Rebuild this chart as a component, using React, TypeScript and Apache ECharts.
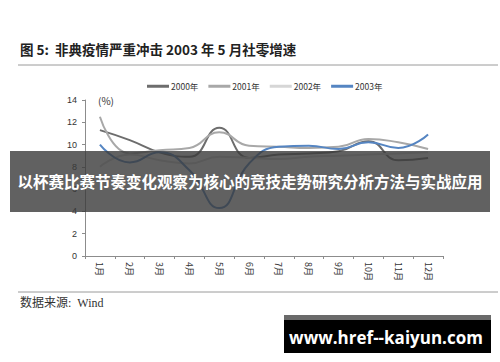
import React, { useEffect, useRef } from "react";
import * as echarts from "echarts";

const months = ["1月", "2月", "3月", "4月", "5月", "6月", "7月", "8月", "9月", "10月", "11月", "12月"];
const seriesNames = ["2000年", "2001年", "2002年", "2003年"];
const y2000 = [11.3, 10.4, 9.3, 8.9, 11.5, 8.8, 9.1, 9.2, 9.4, 10.3, 8.6, 8.8];
const y2001 = [12.5, 9.2, 9.5, 9.7, 11.1, 9.9, 9.8, 9.7, 9.8, 10.5, 10.2, 9.6];
const y2002 = [8.0, 9.1, 8.6, 8.3, 8.9, 8.8, 8.7, 8.9, 9.0, 9.1, 9.2, 9.3];
const y2003 = [10.0, 8.4, 9.3, 7.7, 4.3, 8.3, 9.8, 9.9, 9.6, 10.2, 9.7, 10.9];
const yTicks = { min: 0, max: 14, interval: 2 };
const colors = ["#6d6d6d", "#a8a8a8", "#d6d6d6", "#5585c2"];

const titleText = "图 5:  非典疫情严重冲击 2003 年 5 月社零增速";
const bannerText = "以杯赛比赛节奏变化观察为核心的竞技走势研究分析方法与实战应用";
const sourceText = "数据来源:  Wind";
const watermarkText = "www.href--kaiyun.com";

export default function App() {
  const ref = useRef<HTMLDivElement>(null);
  useEffect(() => {
    if (!ref.current) return;
    const chart = echarts.init(ref.current, null, { renderer: "svg" });
    const data = [y2000, y2001, y2002, y2003];
    chart.setOption({
      animation: false,
      backgroundColor: "#ffffff",
      legend: {
        top: 77,
        left: 142,
        icon: "rect",
        itemWidth: 22,
        itemHeight: 3,
        itemGap: 10,
        textStyle: { fontSize: 8.5, color: "#333", fontFamily: "Noto Sans CJK SC", padding: [0, 0, 0, -3] },
        data: seriesNames,
      },
      grid: { left: 85, right: 57, top: 100, bottom: 106 },
      xAxis: {
        type: "category",
        data: months,
        boundaryGap: true,
        axisLine: { lineStyle: { color: "#8c8c8c" } },
        axisTick: { show: true, length: 3, lineStyle: { color: "#8c8c8c" } },
        axisLabel: { rotate: -90, fontSize: 9, color: "#333", margin: 6, fontFamily: "Noto Sans CJK SC" },
      },
      yAxis: {
        type: "value",
        min: yTicks.min,
        max: yTicks.max,
        interval: yTicks.interval,
        splitLine: { show: false },
        axisLine: { show: true, lineStyle: { color: "#8c8c8c" } },
        axisTick: { show: true, length: 3, lineStyle: { color: "#8c8c8c" } },
        axisLabel: { fontSize: 9, color: "#333", margin: 8 },
      },
      series: seriesNames.map((n, i) => ({
        name: n,
        type: "line",
        data: data[i],
        smooth: 0.5,
        showSymbol: false,
        symbol: "none",
        lineStyle: { width: 2, color: colors[i] },
        itemStyle: { color: colors[i] },
        z: 2 + (i === 3 ? 1 : 0),
      })),
      graphic: [
        { type: "text", left: 20, top: 42, style: { text: titleText, fontSize: 13.5, fontWeight: "bold", fill: "#222", fontFamily: "Noto Sans CJK SC" } },
        { type: "line", shape: { x1: 18, y1: 65, x2: 498, y2: 65 }, style: { stroke: "#9a9a9a", lineWidth: 1 } },
        { type: "text", left: 98, top: 95, style: { text: "(%)", fontSize: 10, fill: "#333", fontFamily: "Noto Sans CJK SC" } },
        { type: "line", shape: { x1: 18, y1: 292, x2: 498, y2: 292 }, style: { stroke: "#9a9a9a", lineWidth: 1 } },
        { type: "text", left: 20, top: 297, style: { text: sourceText, fontSize: 12, fill: "#333", fontFamily: "Liberation Serif, Noto Sans CJK SC" } },
        { type: "rect", shape: { x: 10, y: 151, width: 480, height: 61 }, style: { fill: "rgba(58,58,58,0.8)" }, z: 100 },
        { type: "text", x: 250, y: 181, z: 101, style: { text: bannerText, fontSize: 15.5, fontWeight: "bold", fill: "#ffffff", align: "center", verticalAlign: "middle", fontFamily: "Noto Sans CJK SC" } },
        { type: "rect", shape: { x: 284, y: 315, width: 207, height: 38 }, style: { fill: "#000000" }, z: 100 },
        { type: "rect", shape: { x: 284, y: 315, width: 207, height: 5 }, style: { fill: "#6a6a6a" }, z: 101 },
        { type: "text", x: 386, y: 337, z: 102, style: { text: watermarkText, fontSize: 17, fontWeight: "bold", fill: "#ffffff", align: "center", verticalAlign: "middle", fontFamily: "Open Sans" } },
      ],
    });
    return () => chart.dispose();
  }, []);
  return <div ref={ref} style={{ position: "absolute", left: 0, top: 0, width: 500, height: 362 }} />;
}
